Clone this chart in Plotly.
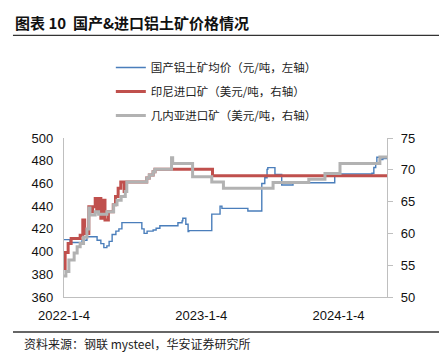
import plotly.graph_objects as go

# 国产铝土矿均价（元/吨，左轴）
dom_dates = ["2022-01-04", "2022-01-20", "2022-02-21", "2022-03-06", "2022-04-02", "2022-04-12",
             "2022-04-20", "2022-04-28", "2022-05-04", "2022-05-12", "2022-05-22", "2022-05-30",
             "2022-06-07", "2022-07-30", "2022-08-05", "2022-08-13", "2022-08-29", "2022-09-06",
             "2022-09-16", "2022-11-03", "2022-11-14", "2022-11-16", "2022-11-24", "2022-11-30",
             "2022-12-02", "2023-02-01", "2023-02-23", "2023-02-28", "2023-05-08", "2023-06-14",
             "2023-06-22", "2023-06-28", "2023-06-30", "2023-07-19", "2023-08-06", "2023-09-05",
             "2023-12-25", "2024-04-02", "2024-04-07", "2024-04-12", "2024-04-15", "2024-04-26",
             "2024-05-01", "2024-05-12"]
dom_vals = [410.5, 408, 410, 413, 410, 407,
            403.5, 405, 409, 415, 418, 420,
            425.5, 420, 416, 418, 419, 420.5,
            422.8, 425.4, 427, 429.3, 424, 417.6,
            418.4, 433, 440, 438, 435.7, 460,
            465, 472.4, 473.9, 468, 458.6, 460.6,
            468.3, 469, 474, 478, 483, 481,
            482, 482]

# 印尼进口矿（美元/吨，右轴）
idn_dates = ["2022-01-04", "2022-01-07", "2022-01-15", "2022-01-23", "2022-02-16", "2022-02-23",
             "2022-02-28", "2022-03-11", "2022-03-13", "2022-03-21", "2022-03-28", "2022-04-01",
             "2022-04-07", "2022-04-12", "2022-04-18", "2022-04-23", "2022-05-02", "2022-05-15",
             "2022-05-21", "2022-05-28", "2022-06-04", "2022-06-13", "2022-06-17", "2022-08-12",
             "2022-08-19", "2022-08-29", "2022-09-03", "2023-02-03", "2024-05-12"]
idn_vals = [54.5, 57.0, 58.4, 59.2, 59.7, 62.1,
            60.0, 64.2, 63.4, 64.2, 65.5, 63.4,
            65.5, 62.4, 65.2, 62.1, 63.4, 64.5,
            65.8, 67.1, 68.1, 66.6, 68.1, 68.7,
            69.2, 69.7, 70.07, 69.07, 69.07]

# 几内亚进口矿（美元/吨，右轴）
gin_dates = ["2022-01-04", "2022-01-09", "2022-01-17", "2022-01-31", "2022-02-08", "2022-02-16",
             "2022-02-25", "2022-03-06", "2022-03-11", "2022-03-14", "2022-03-28", "2022-04-06",
             "2022-04-28", "2022-05-16", "2022-05-25", "2022-06-05", "2022-06-16", "2022-06-20",
             "2022-08-12", "2022-08-19", "2022-08-29", "2022-09-03", "2022-10-17", "2022-10-20",
             "2022-12-12", "2023-02-01", "2023-03-04", "2023-07-14", "2023-10-17", "2023-11-29",
             "2024-01-08", "2024-04-23", "2024-05-12"]
gin_vals = [53.3, 54.0, 55.8, 56.9, 57.9, 58.4,
            59.4, 60.7, 64.0, 62.9, 63.4, 63.0,
            63.4, 64.5, 65.2, 65.8, 66.6, 68.1,
            68.7, 69.2, 69.7, 70.07, 71.9, 71.0,
            68.9, 68.1, 67.1, 68.0, 68.5, 69.4,
            71.0, 72.0, 72.0]

tick_vals = ["2022-01-04", "2023-01-04", "2024-01-04"]
tick_text = ["2022-1-4", "2023-1-4", "2024-1-4"]

names = ["国产铝土矿均价（元/吨，左轴）", "印尼进口矿（美元/吨，右轴）", "几内亚进口矿（美元/吨，右轴）"]

fig = go.Figure()
fig.add_trace(go.Scatter(x=dom_dates, y=dom_vals, name=names[0], mode="lines",
                         line=dict(color="#4A7EBB", width=1.4, shape="hv"), legendgroup="a"))
fig.add_trace(go.Scatter(x=idn_dates, y=idn_vals, name=names[1], mode="lines", yaxis="y2",
                         line=dict(color="#C0504D", width=3, shape="hv"), legendgroup="b"))
fig.add_trace(go.Scatter(x=gin_dates, y=gin_vals, name=names[2], mode="lines", yaxis="y2",
                         line=dict(color="#B2B2B2", width=3, shape="hv"), legendgroup="c"))

axis_font = dict(family="Liberation Sans, Arial, sans-serif", size=13, color="#111111")
cjk = "Noto Sans CJK SC, sans-serif"

# the page body adds an 8px offset, so the figure is 8px smaller and margins compensate
fig.update_layout(
    width=439, height=356,
    margin=dict(l=56, r=60, t=130, b=67, autoexpand=False),
    paper_bgcolor="white", plot_bgcolor="white",
    showlegend=True,
    legend=dict(x=0.145, y=1.535, xanchor="left", yanchor="top", orientation="v",
                font=dict(family=cjk, size=11.5, color="#222222"),
                tracegroupgap=5, bgcolor="rgba(0,0,0,0)", itemwidth=30),
    xaxis=dict(type="date", range=["2022-01-04", "2024-05-12"], tickvals=tick_vals, ticktext=tick_text,
               showgrid=False, zeroline=False, showline=True, linecolor="#BFBFBF", linewidth=1.3,
               ticks="", tickfont=axis_font, ticklabelstandoff=6),
    yaxis=dict(range=[360, 500], dtick=20, showgrid=False, zeroline=False, showline=True,
               linecolor="#BFBFBF", linewidth=1.3, ticks="", tickfont=axis_font, ticklabelstandoff=7),
    yaxis2=dict(range=[50, 75], dtick=5, overlaying="y", side="right", showgrid=False, zeroline=False,
                showline=True, linecolor="#BFBFBF", linewidth=1.3, ticks="outside", ticklen=5,
                tickcolor="#BFBFBF", tickfont=axis_font, ticklabelstandoff=5),
    shapes=[
        dict(type="line", xref="paper", yref="paper", x0=-0.158, x1=1.2, y0=1.645, y1=1.645,
             line=dict(color="#333333", width=1.3)),
        dict(type="line", xref="paper", yref="paper", x0=-0.158, x1=1.2, y0=-0.22, y1=-0.22,
             line=dict(color="#333333", width=1.3)),
    ],
    annotations=[
        dict(text="<b>图表 10  国产&进口铝土矿价格情况</b>", xref="paper", yref="paper",
             x=-0.158, y=1.725, xanchor="left", yanchor="middle", showarrow=False,
             font=dict(family=cjk, size=15, color="#111111")),
        dict(text="<b>图</b>", xref="paper", yref="paper", x=1.155, y=1.725, xanchor="left",
             yanchor="middle", showarrow=False, font=dict(family=cjk, size=15, color="#111111")),
        dict(text="资料来源：钢联 mysteel，华安证券研究所", xref="paper", yref="paper",
             x=-0.13, y=-0.29, xanchor="left", yanchor="middle", showarrow=False,
             font=dict(family=cjk, size=12, color="#222222")),
    ],
)

fig.write_html("out.html")
